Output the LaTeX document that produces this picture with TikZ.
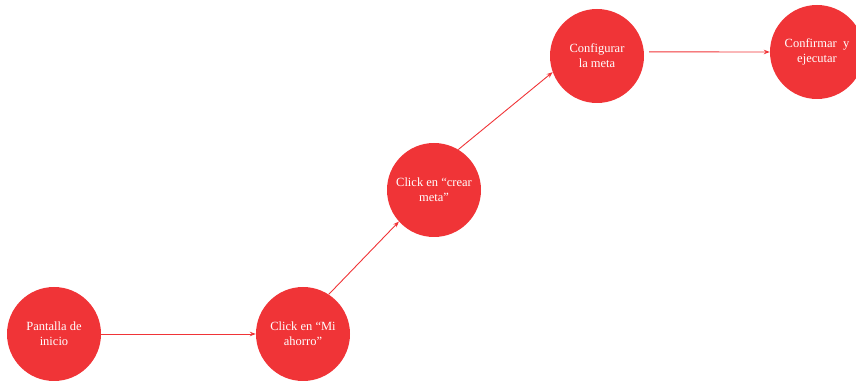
\documentclass[tikz,border=0pt]{standalone}
\usepackage{fontspec}
\setmainfont{Liberation Serif}
\usetikzlibrary{arrows.meta}
\definecolor{metared}{RGB}{240,52,55}
\begin{document}
\begin{tikzpicture}[
        x=1pt, y=1pt,
        stepn/.style={circle, fill=metared, draw=none, minimum size=94pt, inner sep=0pt,
            text=white, align=center, font=\fontsize{12.5}{15}\selectfont},
        flow/.style={draw=metared, line width=0.9pt, -{Stealth[length=6pt,width=4.5pt]}},
    ]
    \useasboundingbox (0,0) rectangle (856,380);
    \clip (0,0) rectangle (856,380);
    \node[stepn](inicio) at (54,46){Pantalla de\\inicio};
    \node[stepn](ahorro) at (303,46){Click en “Mi\\ahorro”};
    \node[stepn](crear) at (434,190){Click en “crear\\meta”};
    \node[stepn](config) at (597,324){Configurar\\la meta};
    \node[stepn](confirm) at (817,328){Confirmar~ y\\ejecutar};
    % flechas entre pasos
    \draw[flow] (inicio) -- (ahorro);
    \draw[flow] (ahorro.57) -- (crear.222);
    \draw[flow] (crear.59) -- (config.200);
    \draw[flow, shorten <=5pt] (config.5) -- (confirm.west);
\end{tikzpicture}
\end{document}
